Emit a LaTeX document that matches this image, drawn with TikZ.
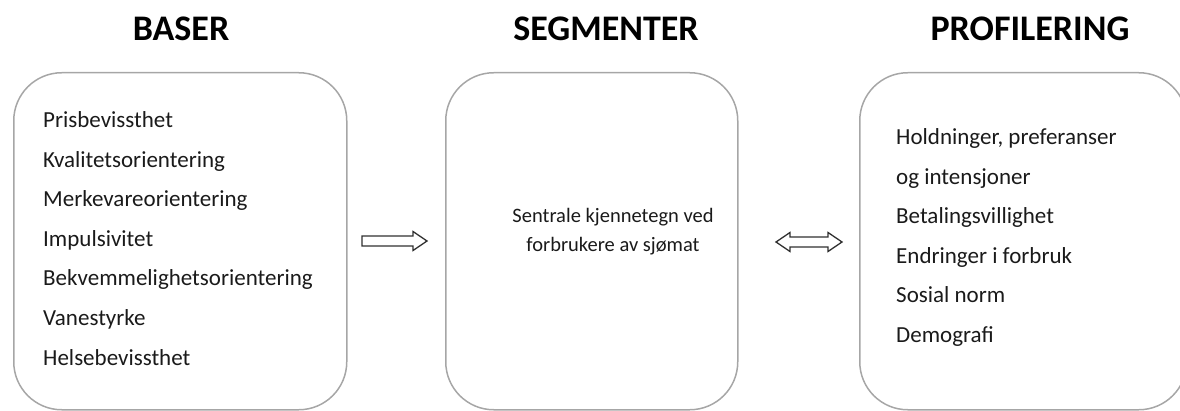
\documentclass[tikz,border=0pt]{standalone}
\usepackage{fontspec}
\setmainfont{Carlito}
\definecolor{boxgray}{HTML}{A6A6A6}
\definecolor{txt}{HTML}{1A1A1A}
\definecolor{arr}{HTML}{303030}
\begin{document}
\begin{tikzpicture}[x=1pt,y=-1pt,
  box/.style={draw=boxgray, line width=1.5pt, rounded corners=48pt, rectangle, inner sep=0pt, anchor=north west},
  title/.style={font=\fontsize{36}{40}\selectfont\bfseries, text=black, anchor=base, inner sep=0pt},
  item/.style={font=\fontsize{23}{27}\selectfont, text=txt, anchor=base west, inner sep=0pt},
  mid/.style={font=\fontsize{20.5}{25}\selectfont, text=txt, anchor=base, inner sep=0pt},
  blockarrow/.style={draw=arr, line width=1.3pt, fill=white, line join=miter}]
\useasboundingbox (0,0) rectangle (1180,411);
% boxes
\node[box, minimum width=333pt, minimum height=337pt] (baser) at (13,72) {};
\node[box, minimum width=292pt, minimum height=337pt] (segm) at (445,72) {};
\node[box, minimum width=327pt, minimum height=337pt] (prof) at (859,72) {};
% titles
\node[title] (t1) at (181,41) {BASER};
\node[title] (t2) at (606,41) {SEGMENTER};
\node[title] (t3) at (1030,41) {PROFILERING};
% left items
\node[item] (b1) at (43,128) {Prisbevissthet};
\node[item] (b2) at (43,167.5) {Kvalitetsorientering};
\node[item] (b3) at (43,207) {Merkevareorientering};
\node[item] (b4) at (43,246.5) {Impulsivitet};
\node[item] (b5) at (43,286) {Bekvemmelighetsorientering};
\node[item] (b6) at (43,325.5) {Vanestyrke};
\node[item] (b7) at (43,365) {Helsebevissthet};
% middle text
\node[mid] (m1) at (613,223) {Sentrale kjennetegn ved};
\node[mid] (m2) at (613,252) {forbrukere av sjømat};
% right items
\node[item] (p1) at (896,145) {Holdninger, preferanser};
\node[item] (p2) at (896,184.5) {og intensjoner};
\node[item] (p3) at (896,224) {Betalingsvillighet};
\node[item] (p4) at (896,263.5) {Endringer i forbruk};
\node[item] (p5) at (896,303) {Sosial norm};
\node[item] (p6) at (896,342.5) {Demografi};
% arrows
\draw[blockarrow] (362,236) -- (413,236) -- (413,231.5) -- (427,241) -- (413,250.5) -- (413,246) -- (362,246) -- cycle;
\draw[blockarrow] (776,242) -- (790,232.5) -- (790,237) -- (828,237) -- (828,232.5) -- (842,242) -- (828,251.5) -- (828,247) -- (790,247) -- (790,251.5) -- cycle;
\end{tikzpicture}
\end{document}
